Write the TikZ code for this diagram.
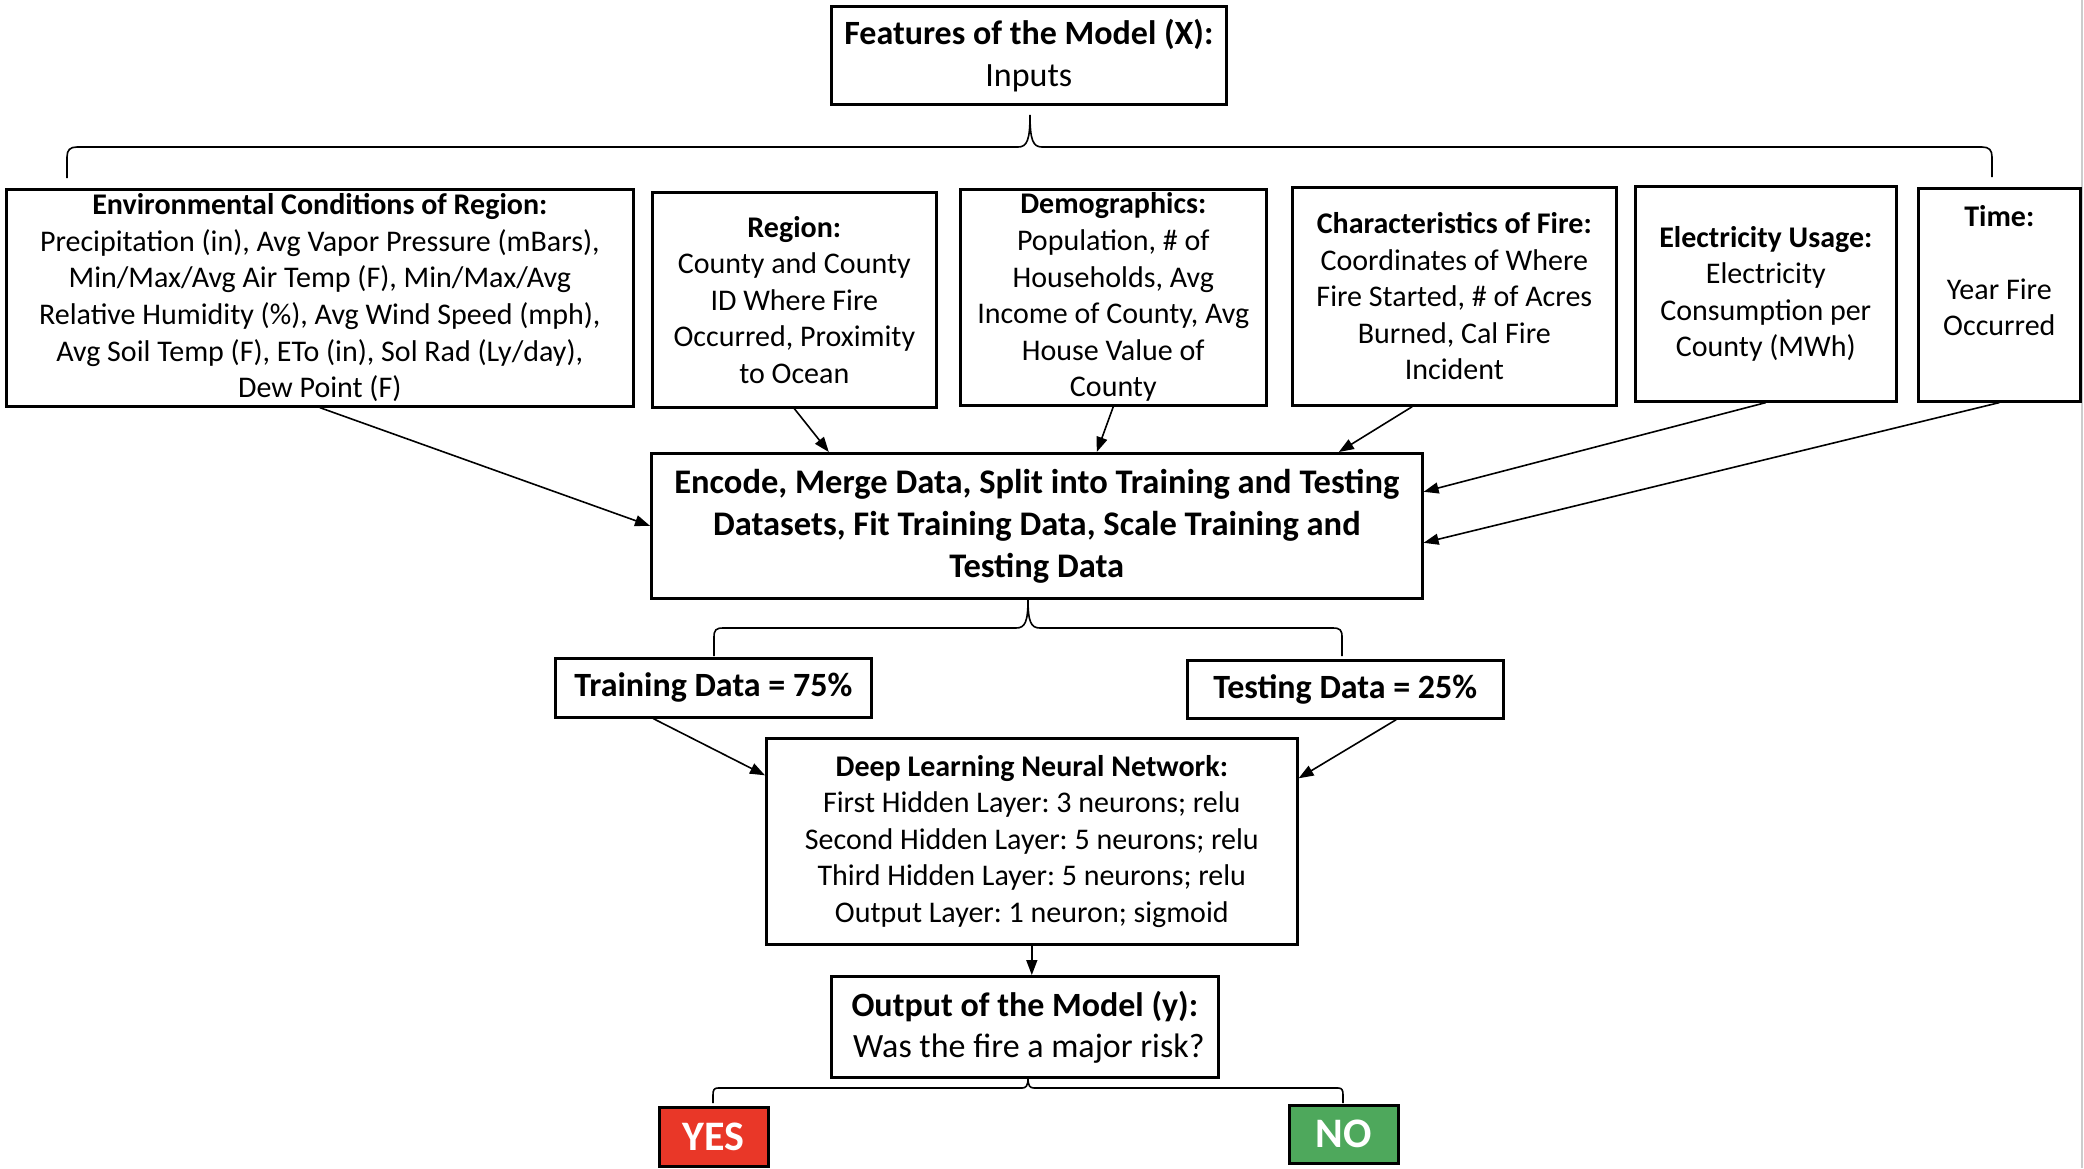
\documentclass[tikz,border=0pt]{standalone}
\usepackage{fontspec}
\setmainfont{Carlito}
\frenchspacing
\usetikzlibrary{arrows.meta}
\definecolor{yesred}{RGB}{233,55,40}
\definecolor{nogreen}{RGB}{78,168,92}
\tikzset{
  box/.style={draw,line width=2.6pt,inner sep=0pt,align=center,anchor=north west},
  small/.style={font=\fontsize{30}{36.6}\selectfont},
  big/.style={font=\fontsize{34}{42}\selectfont},
  conn/.style={line width=1.6pt},
  arr/.style={conn,-{Triangle[length=15pt,width=11pt]}},
}
\begin{document}
\begin{tikzpicture}[x=1pt,y=-1pt]
    \useasboundingbox (0,0) rectangle (2084,1168);
    \draw[black!20,line width=1.5pt] (2082,0) -- (2082,1168);
    %% Inputs
    \node[box,big,minimum width=395pt,minimum height=98pt] (title) at (830,5) {\textbf{Features of the Model (X):}\\Inputs};
    \node[box,small,minimum width=627pt,minimum height=217pt] (env) at (5,188) {\textbf{Environmental Conditions of Region:}\\Precipitation (in), Avg Vapor Pressure (mBars),\\Min/Max/Avg Air Temp (F), Min/Max/Avg\\Relative Humidity (\%), Avg Wind Speed (mph),\\Avg Soil Temp (F), ETo (in), Sol Rad (Ly/day),\\Dew Point (F)};
    \node[box,small,minimum width=284pt,minimum height=215pt] (region) at (651,191) {\textbf{Region:}\\County and County\\ID Where Fire\\Occurred, Proximity\\to Ocean};
    \node[box,small,minimum width=306pt,minimum height=216pt] (demo) at (959,188) {\textbf{Demographics:}\\Population, \# of\\Households, Avg\\Income of County, Avg\\House Value of\\County};
    \node[box,small,minimum width=324pt,minimum height=218pt] (fire) at (1291,186) {\textbf{Characteristics of Fire:}\\Coordinates of Where\\Fire Started, \# of Acres\\Burned, Cal Fire\\Incident};
    \node[box,small,minimum width=261pt,minimum height=215pt] (elec) at (1634,185) {\textbf{Electricity Usage:}\\Electricity\\Consumption per\\County (MWh)};
    \node[box,small,minimum width=162pt,minimum height=213pt] (time) at (1917,187) {\textbf{Time:}\\ \mbox{}\\Year Fire\\Occurred\\[12pt] \mbox{}};
    %% Brace under the title
    \draw[conn] (67,178) -- (67,157) .. controls (67,150) and (70,147) .. (77,147) -- (1018,147)
        .. controls (1027,147) and (1030,140) .. (1030,115) .. controls (1030,140) and (1033,147) .. (1042,147)
        -- (1982,147) .. controls (1989,147) and (1992,150) .. (1992,157) -- (1992,177);
    %% Preparation
    \node[box,font=\fontsize{34.5}{42}\selectfont\bfseries,minimum width=771pt,minimum height=145pt] (prep) at (650,452) {Encode, Merge Data, Split into Training and Testing\\Datasets, Fit Training Data, Scale Training and\\Testing Data};
    \draw[arr] (env.south) -- (prep.west);
    \draw[arr] (region.south) -- ([xshift=-208pt]prep.north);
    \draw[arr] (demo.south) -- ([xshift=60pt]prep.north);
    \draw[arr] ([xshift=-42pt]fire.south) -- ([xshift=302pt]prep.north);
    \draw[arr] (elec.south) -- ([yshift=34pt]prep.east);
    \draw[arr] (time.south) -- ([yshift=-17pt]prep.east);
    %% Split
    \draw[conn] (714,656) -- (714,637) .. controls (714,630) and (716,628) .. (723,628) -- (1016,628)
        .. controls (1025,628) and (1028,622) .. (1028,599) .. controls (1028,622) and (1031,628) .. (1040,628)
        -- (1333,628) .. controls (1340,628) and (1342,630) .. (1342,637) -- (1342,656);
    \node[box,font=\fontsize{34}{42}\selectfont\bfseries,minimum width=316pt,minimum height=59pt] (train) at (554,657) {Training Data = 75\%};
    \node[box,font=\fontsize{34}{42}\selectfont\bfseries,minimum width=316pt,minimum height=58pt] (test) at (1186,659) {Testing Data = 25\%};
    %% Network
    \node[box,small,minimum width=531pt,minimum height=206pt] (dnn) at (765,737) {\textbf{Deep Learning Neural Network:}\\First Hidden Layer: 3 neurons; relu\\Second Hidden Layer: 5 neurons; relu\\Third Hidden Layer: 5 neurons; relu\\Output Layer: 1 neuron; sigmoid};
    \draw[arr] ([xshift=-60pt]train.south) -- ([yshift=66pt]dnn.west);
    \draw[arr] ([xshift=51pt]test.south) -- ([yshift=63pt]dnn.east);
    %% Output
    \node[box,font=\fontsize{34}{41}\selectfont,minimum width=387pt,minimum height=101pt] (out) at (830,975) {\textbf{Output of the Model (y):}\\\hspace{8pt}Was the fire a major risk?};
    \draw[arr] (dnn.south) -- (dnn.south |- out.north);
    \draw[conn] (713,1103) -- (713,1095) .. controls (713,1090) and (714,1088) .. (718,1088) -- (1022,1088)
        .. controls (1026,1088) and (1028,1086) .. (1028,1078) .. controls (1028,1086) and (1030,1088) .. (1034,1088)
        -- (1338,1088) .. controls (1342,1088) and (1343,1090) .. (1343,1095) -- (1343,1103);
    \node[box,fill=yesred,text=white,font=\fontsize{42}{50}\selectfont\bfseries,minimum width=109pt,minimum height=59pt] (yes) at (658,1106) {YES};
    \node[box,fill=nogreen,text=white,font=\fontsize{42}{50}\selectfont\bfseries,minimum width=109pt,minimum height=58pt] (no) at (1288,1104) {NO};
\end{tikzpicture}
\end{document}
